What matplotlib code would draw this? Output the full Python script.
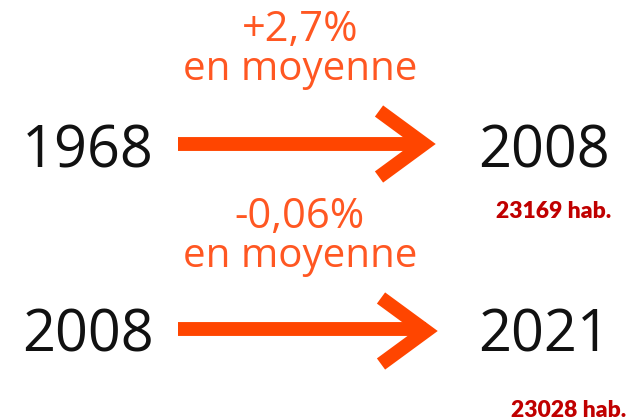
import matplotlib.pyplot as plt

# periods, average yearly change, population at end year
start_years = ["1968", "2008"]
end_years = ["2008", "2021"]
rates = ["+2,7%", "-0,06%"]
populations = ["23169 hab.", "23028 hab."]

ORANGE = "#ff4500"
TEXT_ORANGE = "#ff5722"
DARK_RED = "#c00000"

fig = plt.figure(figsize=(6.31, 4.2), dpi=100)
ax = fig.add_axes([0, 0, 1, 1])
ax.set_xlim(0, 631)
ax.set_ylim(420, 0)
ax.axis("off")

row_y = [144, 329]
head_dy = [0, 2]
head_x = [424, 426]
rate_y = [41, 228]
pop_pos = [(611, 218), (626, 417)]

for i in range(2):
    y = row_y[i]
    ax.text(22, y + 23, start_years[i], fontsize=41.5, family="Open Sans",
            color="#111111", ha="left", va="baseline")
    ax.text(478, y + 23, end_years[i], fontsize=41.5, family="Open Sans",
            color="#111111", ha="left", va="baseline")

    # arrow: shaft + chevron head
    hy = y + head_dy[i]
    hx = head_x[i]
    ax.plot([178, hx], [y, y], color=ORANGE, lw=10, solid_capstyle="butt")
    ax.plot([hx - 45, hx, hx - 45], [hy - 33, hy, hy + 33], color=ORANGE, lw=10,
            solid_capstyle="butt", solid_joinstyle="miter")

    ax.text(300, rate_y[i], rates[i], fontsize=30, family="Open Sans",
            color=TEXT_ORANGE, ha="center", va="baseline")
    ax.text(300, rate_y[i] + 39, "en moyenne", fontsize=29, family="Open Sans",
            color=TEXT_ORANGE, ha="center", va="baseline")

    px, py = pop_pos[i]
    ax.text(px, py, populations[i], fontsize=16.5, family="Lato", weight="heavy",
            color=DARK_RED, ha="right", va="baseline")

fig.savefig("out.png", dpi=100)
